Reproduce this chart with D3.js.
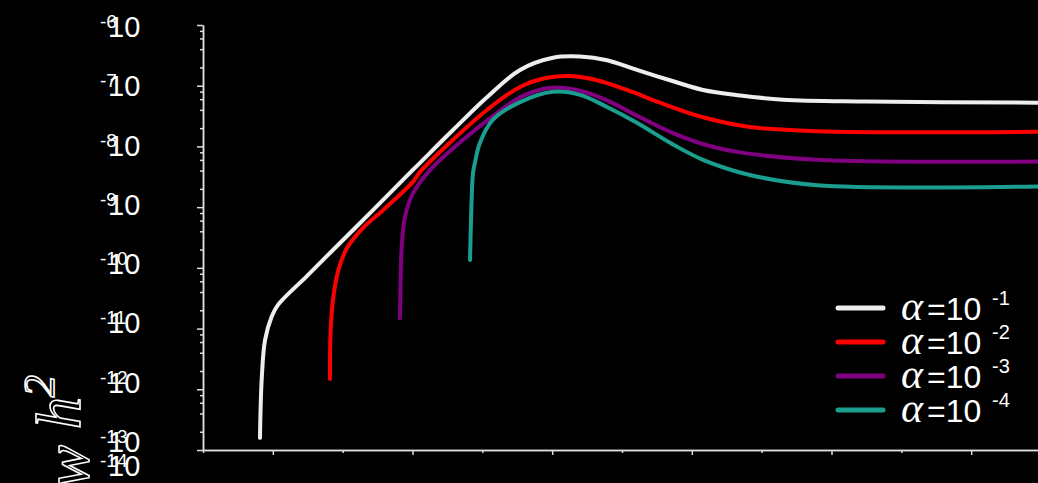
<!DOCTYPE html>
<html lang="en">
<head>
<meta charset="UTF-8">
<title>GW spectrum</title>
<style>
    html, body { margin: 0; padding: 0; background: #000; overflow: hidden; }
    svg { display: block; }
</style>
</head>
<body>
<script src="https://d3js.org/d3.v7.min.js"></script>
<script>
    let w = 1038, h = 483;

    // x: log10 of frequency, y: log10 of the spectrum
    let xMajor = [-9, -8, -7, -6, -5, -4];
    let xMinor = [-9.5, -8.5, -7.5, -6.5, -5.5, -4.5, -3.5];
    let yMajor = [-13, -12, -11, -10, -9, -8, -7, -6];
    let yMinorMult = [2, 4, 6, 8];

    let alphaLabels = ["-1", "-2", "-3", "-4"];
    let colors = ["#eeeeee", "#ff0000", "#800080", "#1a9e8f"];

    // alpha = 1e-1
    let logF1 = [-9.092, -9.080, -9.056, -9.008, -8.963, -8.758, -8.519, -8.283, -8.042, -7.946, -7.710, -7.467, -7.230, -6.994, -6.801, -6.607, -6.393, -6.156, -5.920, -5.655, -5.347, -4.746, -3.522];
    let logO1 = [-12.80, -11.85, -11.19, -10.80, -10.61, -10.14, -9.59, -9.05, -8.49, -8.27, -7.73, -7.19, -6.74, -6.54, -6.52, -6.58, -6.74, -6.91, -7.07, -7.16, -7.23, -7.26, -7.28];
    // alpha = 1e-2
    let logF2 = [-8.591, -8.586, -8.567, -8.531, -8.471, -8.354, -8.211, -7.996, -7.946, -7.710, -7.467, -7.230, -7.037, -6.872, -6.679, -6.464, -6.228, -5.920, -5.584, -5.104, -3.522];
    let logO2 = [-11.83, -11.02, -10.48, -10.04, -9.68, -9.34, -9.05, -8.58, -8.42, -7.89, -7.40, -7.02, -6.87, -6.84, -6.91, -7.07, -7.28, -7.52, -7.68, -7.75, -7.76];
    // alpha = 1e-3
    let logF3 = [-8.090, -8.085, -8.077, -8.054, -7.996, -7.875, -7.638, -7.395, -7.230, -7.037, -6.822, -6.607, -6.371, -6.135, -5.891, -5.620, -5.104, -3.522];
    let logO3 = [-10.83, -10.20, -9.65, -9.16, -8.77, -8.39, -7.89, -7.45, -7.19, -7.04, -7.07, -7.24, -7.52, -7.78, -7.98, -8.11, -8.22, -8.25];
    // alpha = 1e-4
    let logF4 = [-7.588, -7.581, -7.567, -7.553, -7.517, -7.424, -7.230, -6.994, -6.801, -6.607, -6.393, -6.156, -5.920, -5.584, -5.104, -3.522];
    let logO4 = [-9.87, -9.21, -8.44, -8.27, -7.94, -7.56, -7.27, -7.10, -7.15, -7.35, -7.61, -7.94, -8.22, -8.47, -8.64, -8.66];

    let seriesF = [logF1, logF2, logF3, logF4];
    let seriesO = [logO1, logO2, logO3, logO4];

    let svg = d3.select("body")
        .append("svg")
        .attr("width", w)
        .attr("height", h)
        .style("background", "#000");

    let xScale = d3.scaleLinear().domain([-9.5, -3.5]).range([203, 1041]);
    let yScale = d3.scaleLinear().domain([-13, -6]).range([450, 25]);
    // tick labels sit slightly tighter than the ticks
    let labelScale = d3.scaleLinear().domain([-13, -6]).range([452, 37]);

    let axisColor = "#dddddd";

    function styleAxis(g) {
        g.selectAll("path, line").attr("stroke", axisColor).attr("stroke-width", 1.5);
        g.selectAll("text").remove();
    }

    // x axis
    svg.append("g")
        .attr("transform", "translate(0," + yScale(-13) + ")")
        .call(d3.axisBottom(xScale).tickValues(xMajor).tickSize(5).tickSizeOuter(0).tickFormat(""))
        .call(styleAxis);
    svg.append("g")
        .attr("transform", "translate(0," + yScale(-13) + ")")
        .call(d3.axisBottom(xScale).tickValues(xMinor).tickSize(3).tickSizeOuter(0).tickFormat(""))
        .call(styleAxis);

    // y axis
    let yMinor = [];
    for (let k = -13; k < -6; ++k) {
        yMinorMult.forEach(function (m) { yMinor.push(k + Math.log10(m)); });
    }
    svg.append("g")
        .attr("transform", "translate(" + xScale(-9.5) + ",0)")
        .call(d3.axisLeft(yScale).tickValues(yMajor).tickSize(6).tickSizeOuter(0).tickFormat(""))
        .call(styleAxis);
    svg.append("g")
        .attr("transform", "translate(" + xScale(-9.5) + ",0)")
        .call(d3.axisLeft(yScale).tickValues(yMinor).tickSize(3).tickSizeOuter(0).tickFormat(""))
        .call(styleAxis);

    // y tick labels: "10" with the exponent drawn over the "1"
    function drawPower(y, exp) {
        svg.append("text")
            .attr("x", 108)
            .attr("y", y)
            .attr("fill", "#ffffff")
            .style("font-family", "'Liberation Sans', Arial, sans-serif")
            .style("font-size", "29px")
            .text("10");
        svg.append("text")
            .attr("x", 100)
            .attr("y", y - 9)
            .attr("fill", "#ffffff")
            .style("font-family", "'Liberation Sans', Arial, sans-serif")
            .style("font-size", "19px")
            .text(exp);
    }
    yMajor.forEach(function (k) { drawPower(labelScale(k), String(k)); });
    drawPower(labelScale(-13) + 24, "-14");

    // y axis title (mostly outside the frame)
    let title = svg.append("text")
        .attr("transform", "translate(80,375) rotate(-90)")
        .attr("text-anchor", "end")
        .attr("fill", "#000")
        .attr("stroke", "#ffffff")
        .attr("stroke-width", 1.6)
        .style("font-family", "'Liberation Serif', 'DejaVu Serif', serif")
        .style("font-style", "italic")
        .style("font-size", "64px");
    title.append("tspan").text("Ω");
    title.append("tspan").attr("dy", 8).text("w");
    title.append("tspan").attr("dy", -8).text(" h");
    title.append("tspan").attr("dy", -26).style("font-size", "44px").text("2");

    // curves
    let line = d3.line()
        .x(function (d) { return xScale(d[0]); })
        .y(function (d) { return yScale(d[1]); })
        .curve(d3.curveCatmullRom.alpha(0.5));

    for (let i = 0; i < seriesF.length; ++i) {
        let pts = seriesF[i].map(function (f, j) { return [f, seriesO[i][j]]; });
        svg.append("path")
            .attr("d", line(pts))
            .attr("fill", "none")
            .attr("stroke", colors[i])
            .attr("stroke-width", 4)
            .attr("stroke-linecap", "round")
            .attr("stroke-linejoin", "round");
    }

    // legend
    for (let i = 0; i < alphaLabels.length; ++i) {
        let ly = 308 + i * 34;
        svg.append("line")
            .attr("x1", 838).attr("x2", 883)
            .attr("y1", ly).attr("y2", ly)
            .attr("stroke", colors[i])
            .attr("stroke-width", 5)
            .attr("stroke-linecap", "round");
        let t = svg.append("text")
            .attr("x", 901)
            .attr("y", ly + 12)
            .attr("fill", "#ffffff");
        t.append("tspan")
            .style("font-family", "'Liberation Serif', 'DejaVu Serif', serif")
            .style("font-style", "italic")
            .style("font-size", "42px")
            .text("α");
        t.append("tspan")
            .attr("dx", 4)
            .style("font-family", "'Liberation Sans', Arial, sans-serif")
            .style("font-size", "32px")
            .text("=10");
        svg.append("text")
            .attr("x", 992)
            .attr("y", ly - 3)
            .attr("fill", "#ffffff")
            .style("font-family", "'Liberation Sans', Arial, sans-serif")
            .style("font-size", "20px")
            .text(alphaLabels[i]);
    }
</script>
</body>
</html>
